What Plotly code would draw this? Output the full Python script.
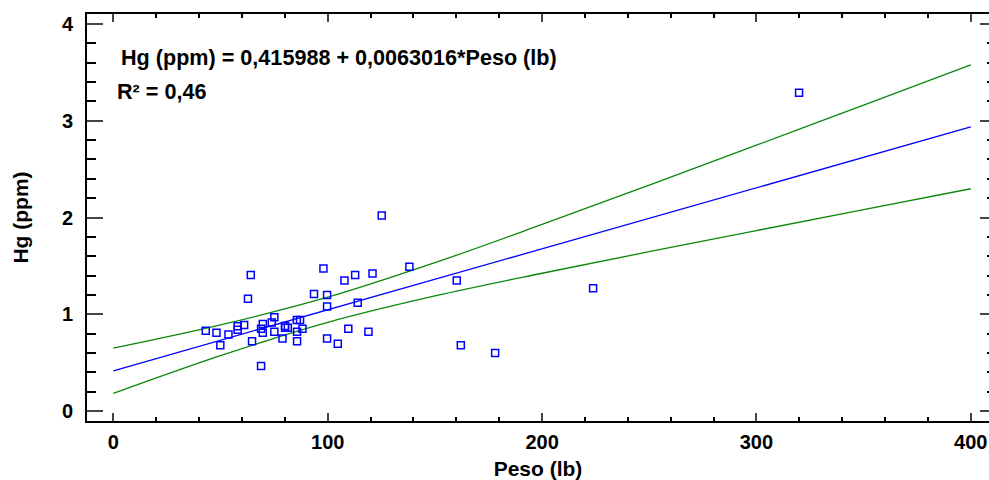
import plotly.graph_objects as go

# Data
peso = [43.1, 48.1, 49.9, 53.7, 58.0, 58.0, 61.0, 62.8, 64.1, 64.7,
        68.9, 68.9, 69.7, 69.7, 73.9, 75.1, 75.1, 78.9, 80.1, 80.1,
        81.4, 85.6, 85.7, 85.7, 87.1, 88.2, 93.6, 98.0, 99.7, 99.7,
        99.7, 104.7, 107.8, 109.6, 112.8, 114.0, 119.0, 120.9, 125.2, 138.1,
        160.2, 162.1, 178.1, 223.8, 319.9]
hg = [0.83, 0.81, 0.68, 0.79, 0.875, 0.84, 0.89, 1.16, 1.405, 0.72,
      0.465, 0.85, 0.90, 0.81, 0.915, 0.97, 0.82, 0.75, 0.88, 0.86,
      0.86, 0.94, 0.82, 0.72, 0.94, 0.85, 1.21, 1.474, 1.20, 1.08,
      0.75, 0.695, 1.35, 0.85, 1.405, 1.12, 0.82, 1.42, 2.02, 1.49,
      1.35, 0.68, 0.60, 1.27, 3.29]

fit_x = [0, 400]
fit_y = [0.416, 2.937]

band_x = [0, 50, 100, 150, 200, 250, 300, 350, 400]
band_upper = [0.650, 0.890, 1.176, 1.533, 1.928, 2.335, 2.747, 3.162, 3.577]
band_lower = [0.182, 0.572, 0.916, 1.189, 1.424, 1.647, 1.865, 2.082, 2.297]

x_ticks = [0, 100, 200, 300, 400]
y_ticks = [0, 1, 2, 3, 4]

eq_text = "Hg (ppm) = 0,415988 + 0,0063016*Peso (lb)"
r2_text = "R² = 0,46"

FONT = "Liberation Sans, Arial, sans-serif"
GREEN = "#0a870a"
BLUE = "#0000ff"

fig = go.Figure()
fig.add_trace(go.Scatter(x=band_x, y=band_upper, mode="lines", line=dict(color=GREEN, width=1.3, shape="spline"), showlegend=False, hoverinfo="skip"))
fig.add_trace(go.Scatter(x=band_x, y=band_lower, mode="lines", line=dict(color=GREEN, width=1.3, shape="spline"), showlegend=False, hoverinfo="skip"))
fig.add_trace(go.Scatter(x=fit_x, y=fit_y, mode="lines", line=dict(color=BLUE, width=1.3), showlegend=False))
fig.add_trace(go.Scatter(x=peso, y=hg, mode="markers",
                         marker=dict(symbol="square-open", size=7, color=BLUE, line=dict(width=1.5, color=BLUE)),
                         showlegend=False))
fig.add_trace(go.Scatter(x=[None], y=[None], yaxis="y2", showlegend=False, hoverinfo="skip"))

tickfont = dict(family=FONT, size=20, color="black", weight="bold")
titlefont = dict(family=FONT, size=21, color="black", weight="bold")

fig.update_layout(
    width=989, height=480,
    margin=dict(l=87, r=0, t=14, b=59, autoexpand=False),
    paper_bgcolor="white", plot_bgcolor="white",
    xaxis=dict(range=[-12.3, 408.5], tickvals=x_ticks, ticks="inside", ticklen=8, tickwidth=2,
               showline=True, linewidth=2, linecolor="black", mirror="ticks",
               showgrid=False, zeroline=False, tickfont=tickfont, ticklabelstandoff=2,
               minor=dict(dtick=20, tick0=0, ticks="inside", ticklen=4, tickwidth=1.5, tickcolor="black", showgrid=False),
               title=dict(text="Peso (lb)", font=titlefont, standoff=11), automargin=False),
    yaxis=dict(range=[-0.103, 4.103], tickvals=y_ticks, ticks="inside", ticklen=16, tickwidth=2,
               showline=True, linewidth=2, linecolor="black", mirror=False,
               showgrid=False, zeroline=False, tickfont=tickfont, ticklabelstandoff=8,
               minor=dict(dtick=0.2, tick0=0, ticks="inside", ticklen=9, tickwidth=1.5, tickcolor="black", showgrid=False),
               title=dict(text="Hg (ppm)", font=titlefont, standoff=28), automargin=False),
    yaxis2=dict(range=[-0.103, 4.103], overlaying="y", side="right", tickvals=y_ticks, ticks="inside",
                ticklen=9, tickwidth=2, showline=False, showgrid=False, zeroline=False,
                showticklabels=False,
                minor=dict(dtick=0.2, tick0=0, ticks="inside", ticklen=2, tickwidth=1.5, tickcolor="black", showgrid=False)),
    annotations=[
        dict(text=eq_text, xref="paper", yref="paper", x=0.036, y=0.894, xanchor="left", yanchor="middle",
             showarrow=False, font=dict(family=FONT, size=21.6, color="black", weight="bold")),
        dict(text=r2_text, xref="paper", yref="paper", x=0.031, y=0.809, xanchor="left", yanchor="middle",
             showarrow=False, font=dict(family=FONT, size=21.6, color="black", weight="bold")),
    ],
)

fig.write_html("out.html", config={"displayModeBar": False},
               post_script="document.body.style.margin='0';document.body.style.overflow='hidden';")
